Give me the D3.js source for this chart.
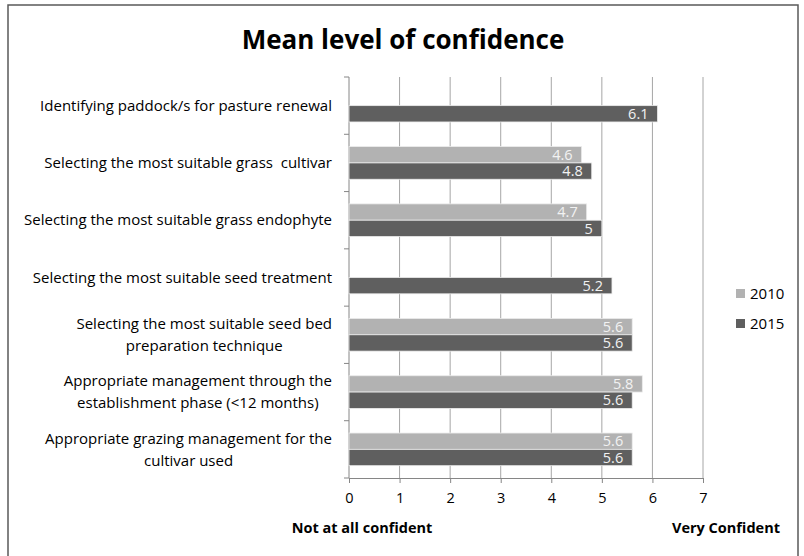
<!DOCTYPE html>
<html>
<head>
<meta charset="utf-8">
<script src="https://cdn.jsdelivr.net/npm/d3@7"></script>
<style>
    body { margin: 0; background: #fff; }
    svg text { font-family: "Open Sans", sans-serif; }
</style>
</head>
<body>
<div id="chart"></div>
<script>
// chart data
const categories = [
    ["Identifying paddock/s for pasture renewal"],
    ["Selecting the most suitable grass  cultivar"],
    ["Selecting the most suitable grass endophyte"],
    ["Selecting the most suitable seed treatment"],
    ["Selecting the most suitable seed bed", "preparation technique"],
    ["Appropriate management through the", "establishment phase (<12 months)"],
    ["Appropriate grazing management for the", "cultivar used"]
];
const years = ["2010", "2015"];
const values2010 = [null, 4.6, 4.7, null, 5.6, 5.8, 5.6];
const values2015 = [6.1, 4.8, 5, 5.2, 5.6, 5.6, 5.6];
const xTicks = [0, 1, 2, 3, 4, 5, 6, 7];

const colors = { "2010": "#b2b2b2", "2015": "#5f5f5f" };

const width = 804, height = 556;
const margin = { top: 77, right: 101, bottom: 78, left: 349 };
const w = width - margin.left - margin.right;
const h = height - margin.top - margin.bottom;

const svg = d3.select("#chart").append("svg")
    .attr("width", width)
    .attr("height", height);

// outer frame
svg.append("rect")
    .attr("x", 8).attr("y", 5)
    .attr("width", 790).attr("height", 560)
    .attr("fill", "none")
    .attr("stroke", "#595959")
    .attr("stroke-width", 1.5);

svg.append("text")
    .attr("x", 403).attr("y", 48.5)
    .attr("text-anchor", "middle")
    .style("font-size", "26px")
    .style("font-weight", "bold")
    .text("Mean level of confidence");

const plot = svg.append("g")
    .attr("transform", `translate(${margin.left},${margin.top})`);

const x = d3.scaleLinear().domain([0, 7]).range([0, w]);
const y = d3.scaleBand().domain(d3.range(categories.length)).range([0, h])
    .paddingInner(0.43).paddingOuter(0.215);
const ySub = d3.scaleBand().domain(years).range([0, y.bandwidth()]);

// gridlines
plot.append("g").selectAll("line")
    .data(xTicks.slice(1)).enter()
    .append("line")
    .attr("x1", d => x(d)).attr("x2", d => x(d))
    .attr("y1", 0).attr("y2", h)
    .attr("stroke", "#a6a6a6");

// bottom axis
const xAxis = plot.append("g")
    .attr("transform", `translate(0,${h})`)
    .call(d3.axisBottom(x).tickValues(xTicks).tickSize(5).tickPadding(10).tickFormat(d3.format("d")));
xAxis.select(".domain").attr("stroke", "#868686");
xAxis.selectAll(".tick line").attr("stroke", "#868686");
xAxis.selectAll("text").style("font-size", "14.5px").attr("fill", "#000");

// left axis with ticks on band edges
const edges = d3.range(categories.length + 1).map(i => i * h / categories.length);
plot.append("line")
    .attr("x1", 0).attr("x2", 0).attr("y1", 0).attr("y2", h)
    .attr("stroke", "#868686");
plot.append("g").selectAll("line")
    .data(edges).enter()
    .append("line")
    .attr("x1", -5).attr("x2", 0)
    .attr("y1", d => d).attr("y2", d => d)
    .attr("stroke", "#868686");

// category labels, each block right-aligned, lines centred within the block
const step = h / categories.length;
const lab = plot.append("g").selectAll("text")
    .data(categories).enter()
    .append("text")
    .attr("text-anchor", "middle")
    .attr("y", (d, i) => step * i + step / 2 - (d.length - 1) * 11)
    .style("font-size", "15px")
    .style("white-space", "pre")
    .attr("fill", "#000");
lab.each(function(d) {
    let t = d3.select(this);
    d.forEach((l, j) => {
        t.append("tspan")
            .attr("dy", j === 0 ? "0.35em" : "22px")
            .text(l);
    });
    let maxW = d3.max(t.selectAll("tspan").nodes(), n => n.getComputedTextLength());
    t.selectAll("tspan").attr("x", -17 - maxW / 2);
});

// bars
const rows = categories.map((c, i) => ({
    i: i,
    vals: [
        { year: "2010", v: values2010[i] },
        { year: "2015", v: values2015[i] }
    ].filter(d => d.v !== null)
}));

const groups = plot.selectAll(".grp")
    .data(rows).enter()
    .append("g")
    .attr("class", "grp")
    .attr("transform", d => `translate(0,${y(d.i)})`);

groups.selectAll("rect")
    .data(d => d.vals).enter()
    .append("rect")
    .attr("x", 0)
    .attr("y", d => ySub(d.year))
    .attr("width", d => x(d.v))
    .attr("height", ySub.bandwidth())
    .attr("fill", d => colors[d.year])
    .attr("stroke", "#ececec")
    .attr("stroke-width", 0.8);

groups.selectAll("text")
    .data(d => d.vals).enter()
    .append("text")
    .attr("x", d => x(d.v) - 9)
    .attr("y", d => ySub(d.year) + ySub.bandwidth() / 2)
    .attr("dy", "0.36em")
    .attr("text-anchor", "end")
    .style("font-size", "14.5px")
    .attr("fill", "#f2f2f2")
    .text(d => d3.format("")(d.v));

// legend
const legend = svg.append("g").selectAll("g")
    .data(years).enter()
    .append("g")
    .attr("transform", (d, i) => `translate(736,${289 + i * 30})`);
legend.append("rect")
    .attr("width", 9).attr("height", 9)
    .attr("fill", d => colors[d]);
legend.append("text")
    .attr("x", 14).attr("y", 4.5)
    .attr("dy", "0.35em")
    .style("font-size", "15px")
    .text(d => d);

// end labels
svg.append("text")
    .attr("x", 362).attr("y", 528).attr("dy", "0.35em")
    .attr("text-anchor", "middle")
    .style("font-size", "14.5px").style("font-weight", "bold")
    .text("Not at all confident");
svg.append("text")
    .attr("x", 726).attr("y", 528).attr("dy", "0.35em")
    .attr("text-anchor", "middle")
    .style("font-size", "14.5px").style("font-weight", "bold")
    .text("Very Confident");
</script>
</body>
</html>
